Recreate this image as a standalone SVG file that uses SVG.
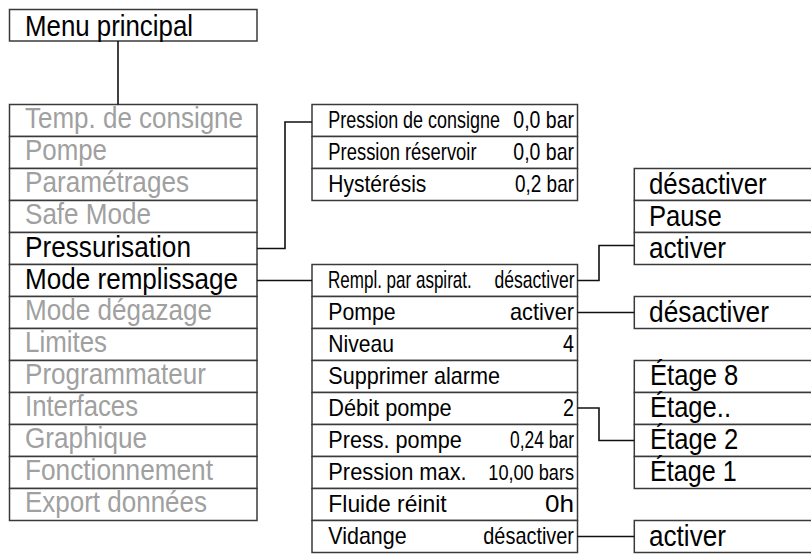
<svg xmlns="http://www.w3.org/2000/svg" width="811" height="556" viewBox="0 0 811 556">
<style>
rect{fill:#fff;stroke:#3a3a3a;stroke-width:1.5}
text{font-family:"Liberation Sans",Arial,sans-serif;fill:#000}
.lg{font-size:30px}
.md{font-size:24px}
.g{fill:#a0a0a0}
.v{text-anchor:end}
.c{fill:none;stroke:#111;stroke-width:1.6}
</style>
<g id="menu-principal"><rect x="9.5" y="9.5" width="247.5" height="31.5"/><text class="lg" x="25" y="35.5" textLength="168" lengthAdjust="spacingAndGlyphs">Menu principal</text></g>
<g id="main-list">
<g id="m-temp"><rect x="9.5" y="104.5" width="247.5" height="32"/><text class="lg g" x="25" y="128" textLength="218" lengthAdjust="spacingAndGlyphs">Temp. de consigne</text></g>
<g id="m-pompe"><rect x="9.5" y="136.5" width="247.5" height="32"/><text class="lg g" x="25" y="160" textLength="82" lengthAdjust="spacingAndGlyphs">Pompe</text></g>
<g id="m-param"><rect x="9.5" y="168.5" width="247.5" height="32"/><text class="lg g" x="25" y="192" textLength="164" lengthAdjust="spacingAndGlyphs">Paramétrages</text></g>
<g id="m-safe"><rect x="9.5" y="200.5" width="247.5" height="32"/><text class="lg g" x="25" y="224" textLength="126" lengthAdjust="spacingAndGlyphs">Safe Mode</text></g>
<g id="m-press"><rect x="9.5" y="232.5" width="247.5" height="32"/><text class="lg" x="25" y="256.5" textLength="166" lengthAdjust="spacingAndGlyphs">Pressurisation</text></g>
<g id="m-rempl"><rect x="9.5" y="264.5" width="247.5" height="32"/><text class="lg" x="25" y="288.5" textLength="213" lengthAdjust="spacingAndGlyphs">Mode remplissage</text></g>
<g id="m-degaz"><rect x="9.5" y="296.5" width="247.5" height="32"/><text class="lg g" x="25" y="320" textLength="187" lengthAdjust="spacingAndGlyphs">Mode dégazage</text></g>
<g id="m-limites"><rect x="9.5" y="328.5" width="247.5" height="32"/><text class="lg g" x="25" y="352" textLength="82" lengthAdjust="spacingAndGlyphs">Limites</text></g>
<g id="m-prog"><rect x="9.5" y="360.5" width="247.5" height="32"/><text class="lg g" x="25" y="384" textLength="181" lengthAdjust="spacingAndGlyphs">Programmateur</text></g>
<g id="m-interf"><rect x="9.5" y="392.5" width="247.5" height="32"/><text class="lg g" x="25" y="416" textLength="113" lengthAdjust="spacingAndGlyphs">Interfaces</text></g>
<g id="m-graph"><rect x="9.5" y="424.5" width="247.5" height="32"/><text class="lg g" x="25" y="448" textLength="122" lengthAdjust="spacingAndGlyphs">Graphique</text></g>
<g id="m-fonct"><rect x="9.5" y="456.5" width="247.5" height="32"/><text class="lg g" x="25" y="480" textLength="188" lengthAdjust="spacingAndGlyphs">Fonctionnement</text></g>
<g id="m-export"><rect x="9.5" y="488.5" width="247.5" height="32"/><text class="lg g" x="25" y="512" textLength="182" lengthAdjust="spacingAndGlyphs">Export données</text></g>
</g>
<g id="pressurisation-box">
<g id="p-consigne"><rect x="312" y="104.5" width="265.5" height="32"/><text class="md" transform="matrix(0.748 0 0 1 328.3 128.3)">Pression de consigne</text><text class="md v" x="574" y="128.3" textLength="60.7" lengthAdjust="spacingAndGlyphs">0,0 bar</text></g>
<g id="p-reservoir"><rect x="312" y="136.5" width="265.5" height="32"/><text class="md" transform="matrix(0.767 0 0 1 328.3 160.3)">Pression réservoir</text><text class="md v" x="574" y="160.3" textLength="60.7" lengthAdjust="spacingAndGlyphs">0,0 bar</text></g>
<g id="p-hyst"><rect x="312" y="168.5" width="265.5" height="32"/><text class="md" x="328.3" y="192.3" textLength="98" lengthAdjust="spacingAndGlyphs">Hystérésis</text><text class="md v" x="574" y="192.3" textLength="59" lengthAdjust="spacingAndGlyphs">0,2 bar</text></g>
</g>
<g id="remplissage-box">
<g id="r-aspirat"><rect x="312" y="264.5" width="265.5" height="32"/><text class="md" transform="matrix(0.709 0 0 1 328 288.3)">Rempl. par aspirat.</text><text class="md v" transform="matrix(0.731 0 0 1 574.5 288.3)">désactiver</text></g>
<g id="r-pompe"><rect x="312" y="296.5" width="265.5" height="32"/><text class="md" x="328.3" y="320.3" textLength="67.4" lengthAdjust="spacingAndGlyphs">Pompe</text><text class="md v" x="574" y="320.3" textLength="64" lengthAdjust="spacingAndGlyphs">activer</text></g>
<g id="r-niveau"><rect x="312" y="328.5" width="265.5" height="32"/><text class="md" x="328.3" y="352.3" textLength="65.7" lengthAdjust="spacingAndGlyphs">Niveau</text><text class="md v" x="574" y="352.3" textLength="11" lengthAdjust="spacingAndGlyphs">4</text></g>
<g id="r-alarme"><rect x="312" y="360.5" width="265.5" height="32"/><text class="md" x="328.3" y="384.3" textLength="171.7" lengthAdjust="spacingAndGlyphs">Supprimer alarme</text></g>
<g id="r-debit"><rect x="312" y="392.5" width="265.5" height="32"/><text class="md" x="328.3" y="416.3" textLength="123.4" lengthAdjust="spacingAndGlyphs">Débit pompe</text><text class="md v" x="574" y="416.3" textLength="11" lengthAdjust="spacingAndGlyphs">2</text></g>
<g id="r-presspompe"><rect x="312" y="424.5" width="265.5" height="32"/><text class="md" x="328.3" y="448.3" textLength="133.4" lengthAdjust="spacingAndGlyphs">Press. pompe</text><text class="md v" x="574" y="448.3" style="font-size:23px" textLength="64" lengthAdjust="spacingAndGlyphs">0,24 bar</text></g>
<g id="r-pressmax"><rect x="312" y="456.5" width="265.5" height="32"/><text class="md" x="328.3" y="480.3" textLength="138.4" lengthAdjust="spacingAndGlyphs">Pression max.</text><text class="md v" x="574" y="480.3" style="font-size:22.5px" textLength="85.7" lengthAdjust="spacingAndGlyphs">10,00 bars</text></g>
<g id="r-fluide"><rect x="312" y="488.5" width="265.5" height="32"/><text class="md" x="328.3" y="512.3" textLength="118.4" lengthAdjust="spacingAndGlyphs">Fluide réinit</text><text class="md v" x="574" y="512.3" textLength="29" lengthAdjust="spacingAndGlyphs">0h</text></g>
<g id="r-vidange"><rect x="312" y="520.5" width="265.5" height="32"/><text class="md" x="328.3" y="544.3" textLength="78.4" lengthAdjust="spacingAndGlyphs">Vidange</text><text class="md v" x="574" y="544.3" textLength="90.7" lengthAdjust="spacingAndGlyphs">désactiver</text></g>
</g>
<g id="aspirat-options">
<g id="a-desact"><rect x="634.3" y="168.5" width="190" height="32"/><text class="lg" x="649" y="193.5" textLength="117.7" lengthAdjust="spacingAndGlyphs">désactiver</text></g>
<g id="a-pause"><rect x="634.3" y="200.5" width="190" height="32"/><text class="lg" x="649" y="225.5" textLength="72.7" lengthAdjust="spacingAndGlyphs">Pause</text></g>
<g id="a-activer"><rect x="634.3" y="232.5" width="190" height="32"/><text class="lg" x="649" y="257.5" textLength="77" lengthAdjust="spacingAndGlyphs">activer</text></g>
</g>
<g id="pompe-option"><rect x="634.3" y="296.5" width="190" height="32"/><text class="lg" x="649" y="321.5" textLength="120" lengthAdjust="spacingAndGlyphs">désactiver</text></g>
<g id="etage-options">
<g id="e-8"><rect x="634.3" y="360.5" width="190" height="32"/><text class="lg" x="650" y="385" textLength="88.3" lengthAdjust="spacingAndGlyphs">Étage 8</text></g>
<g id="e-dots"><rect x="634.3" y="392.5" width="190" height="32"/><text class="lg" x="650" y="417" textLength="81" lengthAdjust="spacingAndGlyphs">Étage..</text></g>
<g id="e-2"><rect x="634.3" y="424.5" width="190" height="32"/><text class="lg" x="650" y="449" textLength="88.3" lengthAdjust="spacingAndGlyphs">Étage 2</text></g>
<g id="e-1"><rect x="634.3" y="456.5" width="190" height="32"/><text class="lg" x="650" y="481" textLength="86.7" lengthAdjust="spacingAndGlyphs">Étage 1</text></g>
</g>
<g id="vidange-option"><rect x="634.3" y="520.5" width="190" height="32"/><text class="lg" x="649" y="545.5" textLength="77" lengthAdjust="spacingAndGlyphs">activer</text></g>
<g id="connectors">
<path class="c" d="M118,41 V104.5"/>
<path class="c" d="M257,248.5 H285 V122 H312"/>
<path class="c" d="M257,280.5 H312"/>
<path class="c" d="M577.5,280.5 H599 V245.5 H634.3"/>
<path class="c" d="M577.5,312.5 H634.3"/>
<path class="c" d="M577.5,408 H599 V440.5 H634.3"/>
<path class="c" d="M577.5,536.5 H634.3"/>
</g>
</svg>
